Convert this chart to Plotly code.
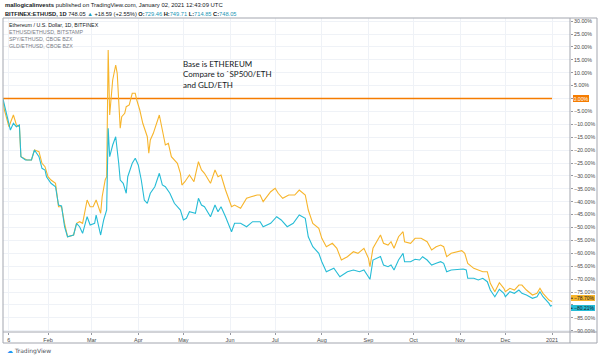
import pandas as pd
import plotly.graph_objects as go

# ---- data (days since 2020-01-01, value in %) ----
spy_day = [1, 2, 5, 8, 10, 12, 13, 17, 20, 22, 25, 27, 29, 31, 33, 36, 38, 40, 42, 44, 48, 50, 52, 54, 57, 59, 61, 63, 66, 67, 69, 70,
           71, 72, 74, 76, 77, 78, 79, 80, 82, 83, 85, 87, 89, 90, 92, 94, 97, 98, 99, 101, 103, 105, 107, 109, 111, 113, 117, 119, 120,
           122, 125, 128, 131, 133, 135, 139, 142, 144, 146, 149, 153, 155, 159, 163, 166, 170, 172, 174, 179, 182, 184, 187, 191, 195,
           198, 202, 204, 207, 211, 213, 216, 220, 223, 226, 230, 234, 237, 241, 244, 245, 247, 252, 254, 257, 259, 261, 264, 267, 268,
           272, 275, 279, 283, 286, 289, 292, 294, 296, 299, 303, 306, 308, 310, 314, 317, 320, 323, 325, 328, 331, 334, 335, 338, 341,
           344, 346, 349, 353, 356, 358, 360, 364, 366]
spy_val = [0.0, -4.46, -10.93, -6.40, -10.27, -10.93, -22.56, -23.84, -23.84, -19.96, -20.62, -25.12, -26.43, -30.31, -31.59, -32.87,
           -41.94, -41.94, -48.38, -53.57, -52.91, -48.38, -47.75, -48.38, -39.34, -41.94, -41.94, -39.34, -44.50, -38.06, -31.59, -30.31,
           18.80, -6.40, 7.17, 12.98, 9.77, -3.18, -11.55, -7.05, -5.74, -3.18, -2.52, 2.02, 2.02, -0.58, -4.46, -9.61, -14.81, -21.24,
           -16.09, -13.49, -10.27, -6.40, -12.21, -18.02, -17.36, -22.56, -25.12, -28.99, -33.53, -32.25, -29.65, -32.25, -24.50, -27.71,
           -28.99, -32.87, -27.71, -30.31, -29.65, -35.47, -41.94, -41.28, -42.56, -38.68, -38.06, -37.40, -37.40, -40.00, -36.12, -34.80,
           -36.74, -38.68, -37.40, -37.40, -35.47, -37.40, -43.22, -48.38, -50.32, -54.19, -57.45, -56.12, -58.06, -62.60, -61.32, -59.38,
           -60.00, -58.06, -61.94, -65.19, -58.06, -52.91, -56.12, -56.78, -55.50, -58.06, -53.57, -51.63, -55.50, -56.12, -54.19, -54.19,
           -55.50, -58.72, -57.44, -56.78, -57.44, -61.32, -60.00, -59.38, -58.99, -60.00, -63.88, -65.81, -66.47, -67.13, -67.13, -71.63,
           -74.88, -71.40, -73.57, -74.88, -73.57, -74.23, -72.29, -72.29, -74.23, -76.16, -75.50, -73.57, -75.50, -78.10, -78.70]

gld_day = [1, 4, 6, 8, 10, 12, 13, 16, 20, 22, 25, 27, 29, 30, 33, 36, 38, 40, 42, 44, 48, 50, 52, 54, 57, 59, 62, 63, 66, 68, 70,
           71, 72, 74, 76, 78, 79, 81, 83, 84, 87, 89, 91, 93, 95, 97, 99, 102, 105, 107, 109, 112, 115, 119, 121, 123, 125, 129, 131,
           133, 135, 139, 142, 144, 146, 149, 153, 155, 159, 163, 167, 172, 174, 179, 183, 186, 190, 194, 198, 202, 204, 207, 211, 213,
           216, 221, 225, 230, 234, 238, 241, 245, 247, 252, 254, 257, 259, 261, 264, 267, 268, 272, 275, 278, 280, 283, 286, 289, 292,
           294, 296, 299, 303, 307, 309, 310, 314, 317, 320, 323, 325, 328, 331, 334, 335, 338, 341, 344, 346, 349, 353, 356, 358, 360,
           364, 365, 366]
gld_val = [0.0, -7.05, -12.21, -9.61, -10.93, -10.27, -22.56, -23.84, -23.84, -19.96, -22.56, -27.05, -27.71, -30.31, -32.87, -34.19,
           -41.28, -41.67, -49.69, -53.57, -52.91, -48.38, -49.69, -52.25, -45.81, -49.03, -48.38, -45.16, -52.91, -47.09, -43.22,
           -11.55, -22.56, -18.02, -14.81, -25.12, -31.59, -32.87, -36.74, -30.31, -25.12, -23.18, -25.78, -31.59, -39.34, -40.62, -36.74,
           -34.19, -28.99, -33.53, -34.19, -36.74, -40.62, -43.22, -47.09, -46.43, -43.88, -44.50, -38.68, -41.28, -41.94, -45.81, -41.28,
           -43.88, -41.94, -45.81, -51.63, -48.37, -48.37, -49.69, -47.75, -47.75, -49.69, -48.37, -45.81, -47.09, -49.69, -48.37, -45.16,
           -46.43, -53.57, -57.44, -60.00, -63.26, -67.13, -65.81, -69.07, -67.13, -66.47, -67.13, -66.47, -70.08, -62.60, -61.24, -64.53,
           -65.19, -64.53, -66.47, -62.60, -60.00, -63.26, -63.26, -62.33, -62.60, -61.32, -62.60, -64.54, -63.88, -63.26, -63.88, -67.13,
           -66.47, -66.20, -66.09, -66.47, -69.69, -69.69, -70.35, -69.69, -71.01, -74.23, -76.83, -73.95, -75.50, -76.82, -74.88, -75.50,
           -74.23, -75.50, -76.16, -77.44, -76.82, -74.88, -76.82, -79.40, -80.45, -80.21]

base_day = [1, 366]
base_val = [0.0, 0.0]

tick_dates = ["2020-01-06", "2020-02-01", "2020-03-01", "2020-04-01", "2020-05-01", "2020-06-01", "2020-07-01",
              "2020-08-01", "2020-09-01", "2020-10-01", "2020-11-01", "2020-12-01", "2021-01-01"]
tick_text = ["6", "Feb", "Mar", "Apr", "May", "Jun", "Jul", "Aug", "Sep", "Oct", "Nov", "Dec", "2021"]
y_ticks = list(range(30, -95, -5))
y_hidden = [-80]  # tick label covered by the last-value boxes in the original

legend_lines = ["Ethereum / U.S. Dollar, 1D, BITFINEX", "ETHUSD/ETHUSD, BITSTAMP", "SPY/ETHUSD, CBOE BZX", "GLD/ETHUSD, CBOE BZX"]

# ---- helpers ----
t0 = pd.Timestamp("2020-01-01")
def to_dates(days):
    return [(t0 + pd.Timedelta(days=d)).strftime("%Y-%m-%d") for d in days]

def pct(v):
    s = f"{abs(v):.2f}%"
    return ("\u2212" + s) if v < 0 else s

C_SPY = "#f7b52c"
C_GLD = "#26bcd6"
C_BASE = "#f57c00"
FONT = "Liberation Sans"

fig = go.Figure()
fig.add_trace(go.Scatter(x=to_dates(base_day), y=base_val, mode="lines", line=dict(color=C_BASE, width=1.3), hoverinfo="skip"))
fig.add_trace(go.Scatter(x=to_dates(spy_day), y=spy_val, mode="lines", line=dict(color=C_SPY, width=1.1), hoverinfo="skip"))
fig.add_trace(go.Scatter(x=to_dates(gld_day), y=gld_val, mode="lines", line=dict(color=C_GLD, width=1.1), hoverinfo="skip"))

x_start = (t0 + pd.Timedelta(days=1.09)).isoformat()
x_end = (t0 + pd.Timedelta(days=377.96)).isoformat()

fig.update_layout(
    width=600, height=359,
    margin=dict(l=3, r=30, t=18, b=27),
    paper_bgcolor="white", plot_bgcolor="white",
    showlegend=False,
    font=dict(family=FONT, size=5.5, color="#4a4a4a"),
    xaxis=dict(type="date", range=[x_start, x_end], tickvals=tick_dates, ticktext=tick_text,
               showgrid=True, gridcolor="#eff2f7", gridwidth=1, zeroline=False,
               ticks="outside", ticklen=2, tickcolor="#9598a1",
               showline=False, tickfont=dict(size=5.5, color="#4a4a4a", family=FONT), fixedrange=True),
    yaxis=dict(side="right", range=[-90.5, 31.2], tickvals=y_ticks,
               ticktext=["" if v in y_hidden else pct(v) for v in y_ticks],
               showgrid=True, gridcolor="#eff2f7", gridwidth=1, zeroline=False,
               ticks="outside", ticklen=2, tickcolor="#9598a1",
               showline=False, tickfont=dict(size=5.3, color="#4a4a4a", family=FONT), fixedrange=True),
)

# frame lines (paper coords)
xr = 594 / 567.0
yb = -11 / 314.0
frame = dict(color="#a3a6af", width=1)
fig.add_shape(type="line", xref="paper", yref="paper", x0=0, x1=xr, y0=1, y1=1, line=frame)
fig.add_shape(type="line", xref="paper", yref="paper", x0=0, x1=xr, y0=yb, y1=yb, line=frame)
fig.add_shape(type="line", xref="paper", yref="paper", x0=0, x1=0, y0=yb, y1=1, line=frame)
fig.add_shape(type="line", xref="paper", yref="paper", x0=xr, x1=xr, y0=yb, y1=1, line=frame)
fig.add_shape(type="line", xref="paper", yref="paper", x0=1, x1=1, y0=yb, y1=1, line=frame)
fig.add_shape(type="line", xref="paper", yref="paper", x0=0, x1=xr, y0=0, y1=0, line=frame)

# header
fig.add_annotation(xref="paper", yref="paper", x=0, y=(332 - 5) / 314, xanchor="left", yanchor="middle", showarrow=False,
                   text="<b>mallogicalinvests</b> published on TradingView.com, January 02, 2021 12:43:09 UTC",
                   font=dict(size=5.9, color="#131722", family=FONT))
teal = "#2196b6"
hdr2 = ("<b>BITFINEX:ETHUSD, 1D</b> 748.05 <span style='color:%s'>\u25b2</span> +18.59 (+2.55%%) "
        "<b>O:</b><span style='color:%s'>729.46</span> <b>H:</b><span style='color:%s'>749.71</span> "
        "<b>L:</b><span style='color:%s'>714.85</span> <b>C:</b><span style='color:%s'>748.05</span>") % (teal, teal, teal, teal, teal)
fig.add_annotation(xref="paper", yref="paper", x=0, y=(332 - 14) / 314, xanchor="left", yanchor="middle", showarrow=False,
                   text=hdr2, font=dict(size=5.7, color="#131722", family=FONT))

# legend text inside plot
leg_y = [24.7, 32.3, 39.3, 46.0]
for i, (t, yy) in enumerate(zip(legend_lines, leg_y)):
    fig.add_annotation(xref="paper", yref="paper", x=4 / 567, y=(332 - yy) / 314, xanchor="left", yanchor="middle",
                       showarrow=False, text=t,
                       font=dict(size=5.3, color="#131722" if i == 0 else "#7a7d86", family=FONT))

# note
fig.add_annotation(xref="paper", yref="paper", x=178 / 567, y=(332 - 56.5) / 314, xanchor="left", yanchor="top",
                   showarrow=False, align="left",
                   text="Base is ETHEREUM<br>Compare to `SP500/ETH<br>and GLD/ETH",
                   font=dict(size=8, color="#131722", family="Lato"))

# price-axis value labels
lab_x = 1.0 + 1.0 / 567
fig.add_annotation(xref="paper", yref="y", x=1.0 + 3 / 567, y=base_val[-1], xanchor="left", yanchor="middle", showarrow=False,
                   text=pct(base_val[-1]), bgcolor=C_BASE, borderpad=0.5, borderwidth=0,
                   font=dict(size=5.2, color="white", family=FONT))
fig.add_annotation(xref="paper", yref="y", x=lab_x, y=-77.5, xanchor="left", yanchor="middle", showarrow=False,
                   text="\u2022 " + pct(spy_val[-1]), bgcolor=C_SPY, borderpad=0, borderwidth=0,
                   font=dict(size=5.0, color="#131722", family=FONT))
fig.add_annotation(xref="paper", yref="y", x=lab_x, y=-81.1, xanchor="left", yanchor="middle", showarrow=False,
                   text="\u2022 " + pct(gld_val[-1]), bgcolor=C_GLD, borderpad=0, borderwidth=0,
                   font=dict(size=5.0, color="#131722", family=FONT))

# TradingView logo text
fig.add_annotation(xref="paper", yref="paper", x=2 / 567, y=(332 - 351) / 314, xanchor="left", yanchor="middle",
                   showarrow=False, text="<span style='color:#2196f3'>\u2601</span> TradingView",
                   font=dict(size=6, color="#50535e", family="DejaVu Sans"))

fig.write_html("out.html", config={"displayModeBar": False},
               post_script="document.body.style.margin='0';document.body.style.padding='0';")
